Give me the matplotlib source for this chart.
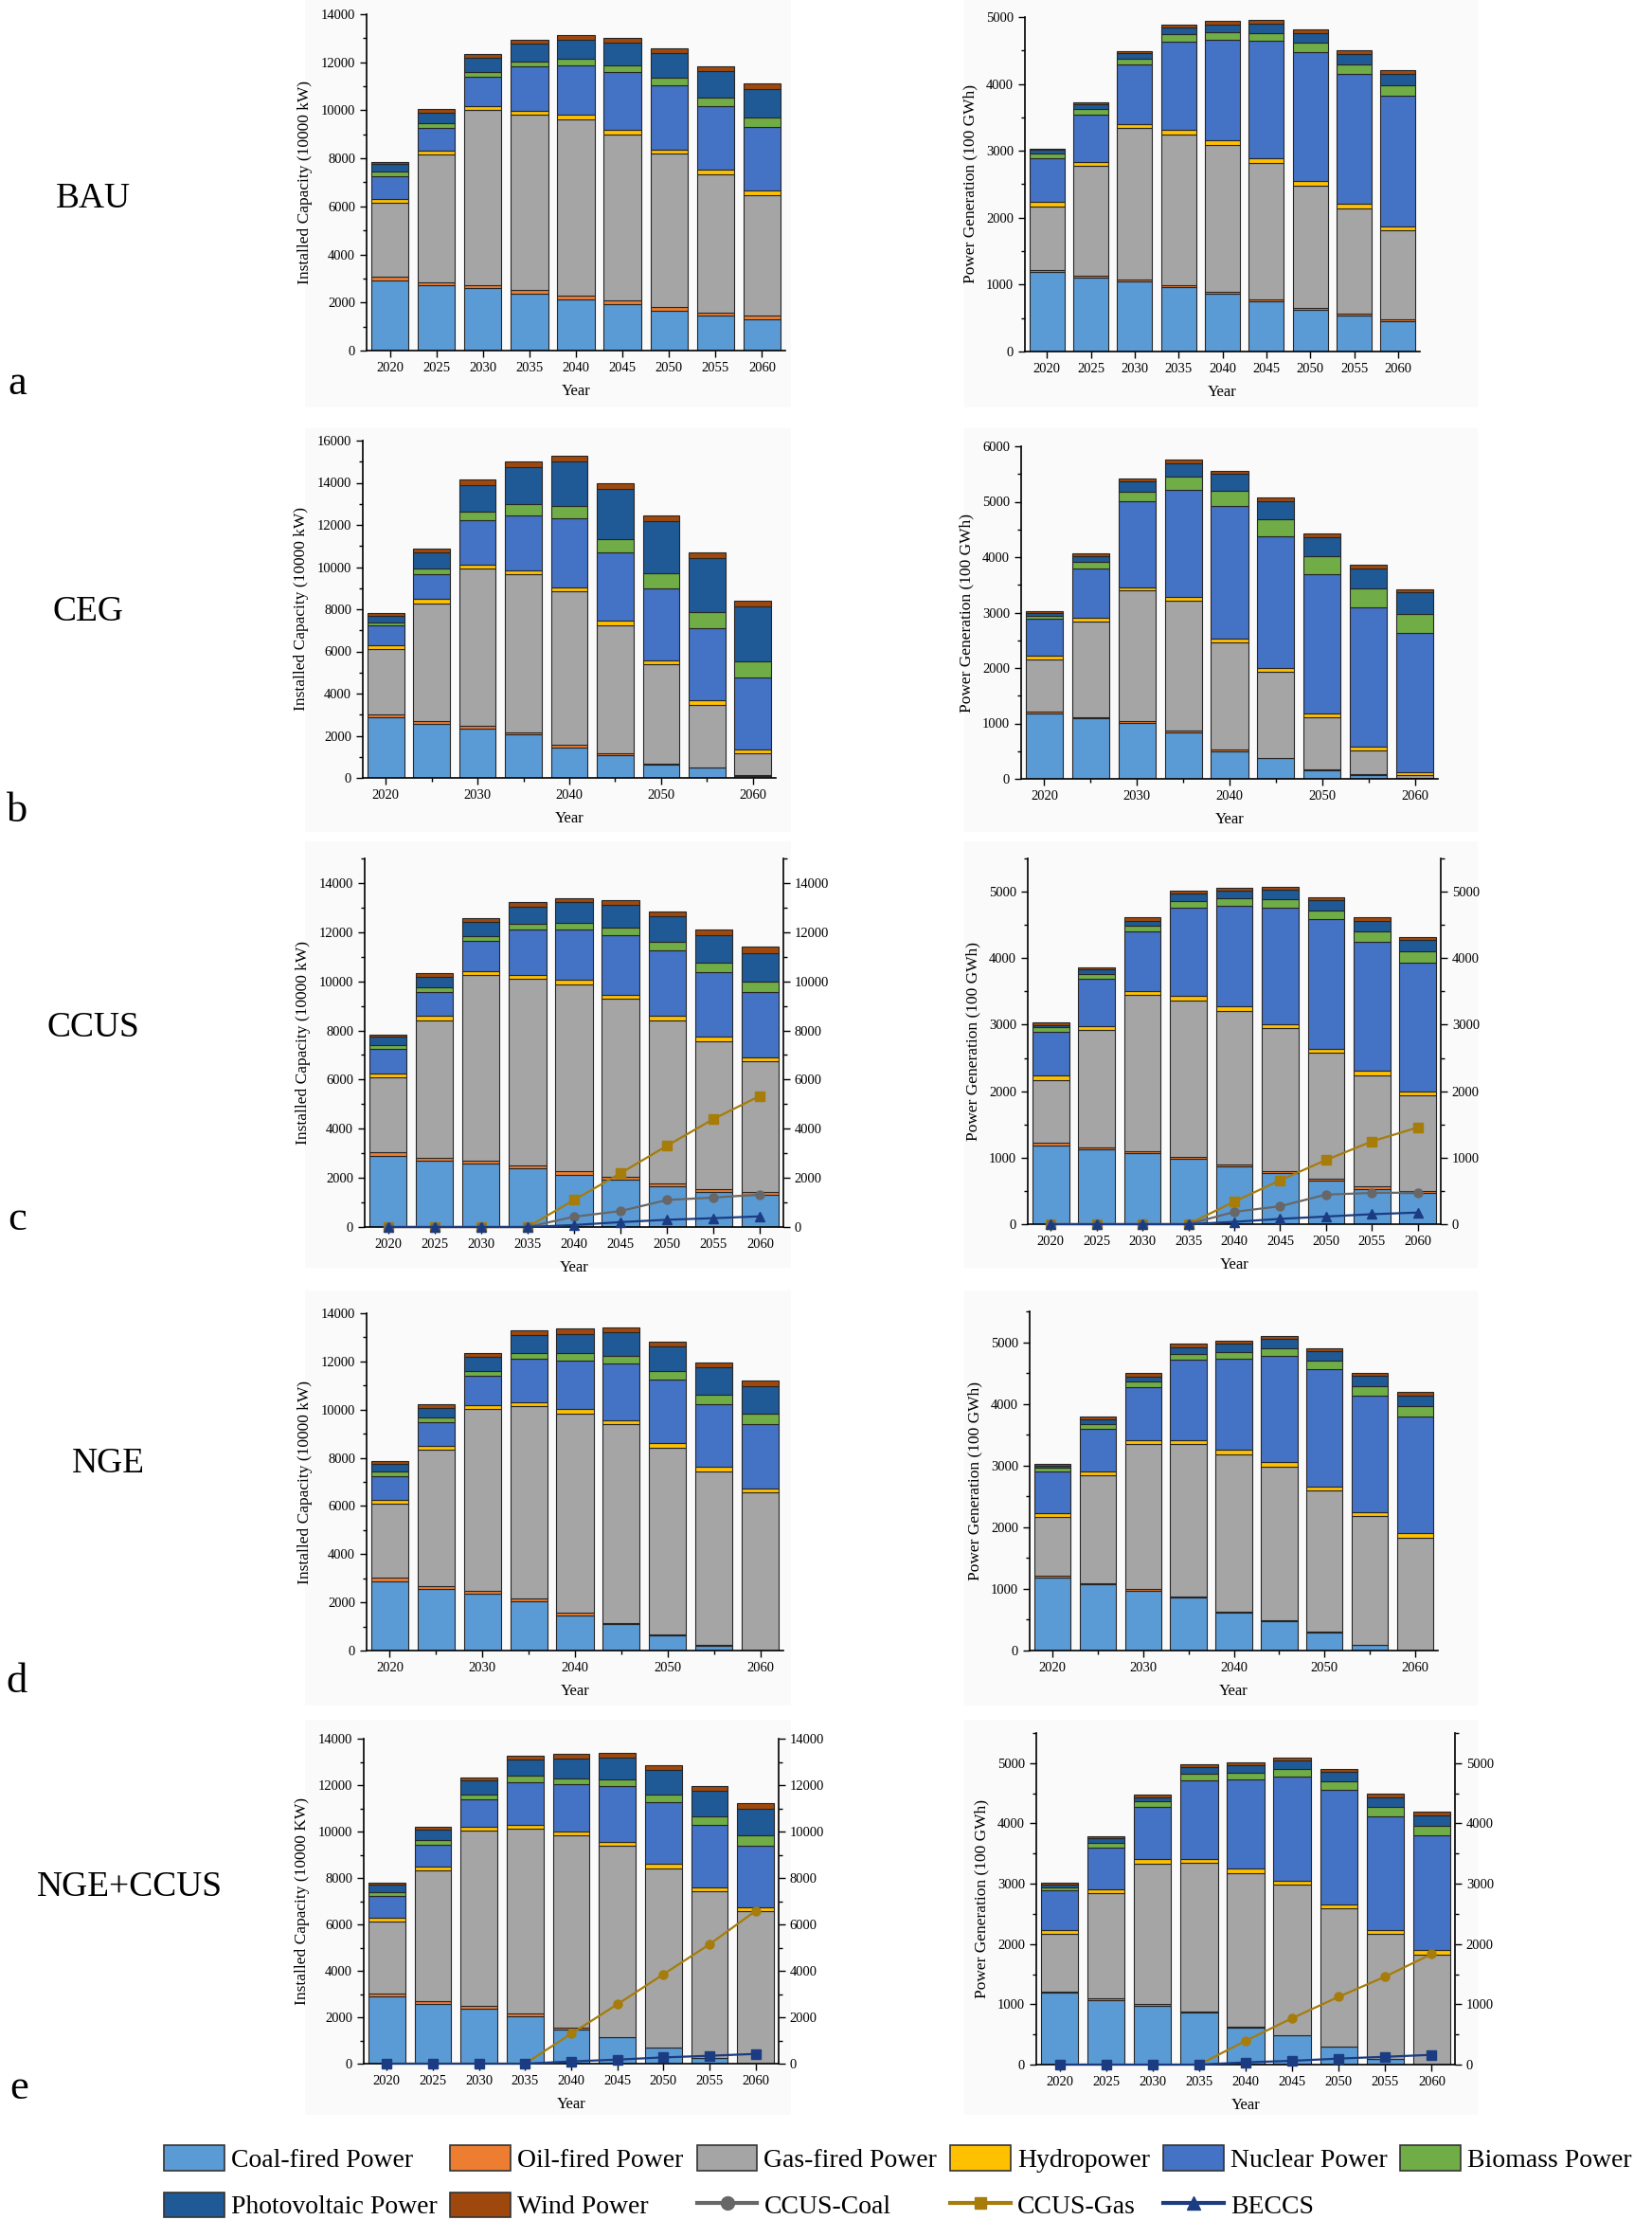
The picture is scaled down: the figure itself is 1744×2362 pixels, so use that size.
import numpy as np
import matplotlib
matplotlib.use('Agg')
import matplotlib.pyplot as plt
from matplotlib.patches import Patch, Rectangle
from matplotlib.lines import Line2D
from matplotlib.ticker import MultipleLocator

plt.rcParams['font.family'] = ['Liberation Serif', 'DejaVu Serif']

years = ['2020', '2025', '2030', '2035', '2040', '2045', '2050', '2055', '2060']
sources = ['Coal-fired Power', 'Oil-fired Power', 'Gas-fired Power', 'Hydropower',
           'Nuclear Power', 'Biomass Power', 'Photovoltaic Power', 'Wind Power']
colors = ['#5b9bd5', '#ed7d31', '#a5a5a5', '#ffc000',
          '#4472c4', '#70ad47', '#1f5a96', '#9e480e']

# rows follow `sources`: coal, oil, gas, hydro, nuclear, biomass, PV, wind
bau_cap = [
    [2930, 2720, 2600, 2370, 2140, 1920, 1660, 1450, 1290],
    [130, 130, 120, 150, 130, 160, 140, 130, 160],
    [3080, 5300, 7280, 7290, 7350, 6900, 6400, 5740, 5000],
    [170, 170, 180, 180, 200, 200, 180, 200, 210],
    [960, 960, 1210, 1830, 2050, 2420, 2650, 2640, 2650],
    [170, 180, 210, 220, 260, 260, 330, 360, 390],
    [340, 430, 580, 720, 790, 960, 1010, 1120, 1170],
    [80, 160, 150, 170, 200, 200, 210, 200, 240],
]
bau_gen = [
    [1190, 1110, 1055, 970, 865, 755, 630, 535, 450],
    [30, 30, 28, 28, 28, 30, 28, 28, 32],
    [950, 1640, 2264, 2245, 2193, 2032, 1824, 1579, 1328],
    [61, 57, 57, 66, 66, 66, 62, 66, 66],
    [662, 708, 884, 1328, 1508, 1763, 1937, 1938, 1952],
    [70, 76, 89, 104, 113, 118, 137, 141, 146],
    [52, 71, 80, 104, 109, 141, 147, 156, 175],
    [20, 33, 38, 43, 57, 52, 47, 62, 57],
]
ceg_cap = [
    [2880, 2580, 2320, 2050, 1450, 1080, 630, 480, 105],
    [150, 120, 150, 120, 105, 75, 45, 30, 15],
    [3100, 5580, 7450, 7480, 7320, 6100, 4720, 2970, 1030],
    [150, 195, 195, 195, 180, 195, 180, 210, 195],
    [945, 1185, 2100, 2610, 3240, 3250, 3420, 3430, 3400],
    [150, 270, 435, 555, 615, 645, 705, 735, 795],
    [330, 750, 1230, 1710, 2085, 2355, 2475, 2550, 2610],
    [120, 210, 270, 270, 285, 270, 270, 300, 270],
]
ceg_gen = [
    [1185, 1088, 1014, 838, 501, 370, 160, 74, 17],
    [29, 29, 23, 28, 29, 12, 17, 11, 6],
    [940, 1726, 2359, 2342, 1937, 1550, 928, 428, 40],
    [74, 69, 63, 68, 69, 68, 74, 68, 51],
    [655, 883, 1544, 1943, 2381, 2382, 2508, 2513, 2524],
    [63, 120, 182, 240, 280, 302, 330, 342, 342],
    [45, 102, 177, 239, 302, 330, 342, 365, 382],
    [29, 46, 57, 63, 57, 63, 68, 62, 63],
]
ccus_cap = [
    [2900, 2710, 2570, 2390, 2130, 1910, 1640, 1420, 1300],
    [130, 115, 130, 115, 130, 115, 130, 130, 130],
    [3080, 5595, 7545, 7584, 7597, 7263, 6647, 5992, 5326],
    [155, 190, 180, 180, 190, 155, 190, 205, 165],
    [975, 937, 1206, 1822, 2078, 2451, 2669, 2630, 2657],
    [180, 193, 218, 243, 270, 308, 347, 385, 423],
    [334, 436, 577, 706, 821, 898, 1026, 1117, 1155],
    [90, 167, 154, 180, 180, 193, 193, 218, 244],
]
ccus_gen = [
    [1186, 1124, 1063, 982, 873, 768, 650, 531, 470],
    [33, 29, 28, 28, 28, 29, 28, 34, 28],
    [949, 1764, 2353, 2358, 2311, 2149, 1907, 1674, 1433],
    [62, 57, 66, 62, 61, 62, 57, 71, 66],
    [664, 712, 887, 1328, 1513, 1755, 1945, 1931, 1940],
    [71, 81, 86, 104, 110, 128, 133, 157, 162],
    [33, 61, 81, 105, 118, 133, 152, 161, 170],
    [33, 33, 47, 47, 48, 52, 47, 52, 48],
]
nge_cap = [
    [2890, 2560, 2340, 2030, 1470, 1115, 643, 210, 0],
    [155, 130, 130, 130, 105, 27, 13, 13, 0],
    [3058, 5642, 7571, 7978, 8266, 8240, 7755, 7191, 6548],
    [157, 171, 157, 157, 171, 184, 183, 197, 183],
    [958, 958, 1208, 1811, 2034, 2362, 2664, 2624, 2677],
    [197, 210, 210, 236, 288, 314, 355, 393, 420],
    [328, 406, 564, 748, 814, 971, 997, 1116, 1154],
    [105, 131, 157, 184, 210, 184, 223, 223, 237],
]
nge_gen = [
    [1179, 1072, 974, 856, 615, 482, 292, 87, 0],
    [36, 25, 21, 21, 21, 5, 11, 5, 0],
    [949, 1744, 2349, 2467, 2543, 2498, 2287, 2082, 1831],
    [67, 67, 66, 66, 72, 66, 72, 67, 72],
    [666, 692, 867, 1303, 1477, 1728, 1897, 1887, 1897],
    [62, 77, 82, 102, 118, 129, 144, 154, 159],
    [41, 77, 87, 103, 133, 143, 153, 174, 179],
    [26, 36, 51, 56, 42, 52, 52, 52, 52],
]
ngeccus_cap = [
    [2895, 2583, 2351, 2039, 1468, 1128, 680, 231, 0],
    [123, 108, 123, 109, 95, 27, 27, 14, 0],
    [3099, 5641, 7557, 7978, 8278, 8224, 7720, 7190, 6565],
    [163, 163, 163, 163, 177, 163, 177, 177, 163],
    [951, 952, 1197, 1835, 2011, 2406, 2650, 2678, 2678],
    [177, 204, 203, 272, 272, 312, 327, 380, 422],
    [299, 421, 598, 693, 843, 938, 1060, 1087, 1155],
    [95, 122, 136, 164, 190, 190, 204, 204, 231],
]
ngeccus_gen = [
    [1190, 1069, 980, 860, 613, 482, 299, 89, 0],
    [26, 26, 26, 26, 21, 11, 5, 5, 0],
    [954, 1746, 2333, 2463, 2547, 2489, 2290, 2076, 1829],
    [57, 63, 68, 68, 68, 68, 63, 68, 68],
    [661, 697, 864, 1300, 1478, 1725, 1897, 1887, 1903],
    [57, 83, 90, 100, 116, 125, 147, 157, 167],
    [37, 74, 78, 110, 120, 142, 147, 157, 168],
    [37, 31, 47, 47, 47, 52, 52, 52, 53],
]

# CCUS / BECCS lines (right axis)
ccus_cap_coal = [0, 0, 0, 0, 420, 650, 1100, 1200, 1320]
ccus_cap_gas = [0, 0, 0, 0, 1100, 2190, 3310, 4400, 5340]
ccus_cap_beccs = [0, 0, 0, 0, 80, 200, 295, 360, 435]
ccus_gen_coal = [0, 0, 0, 0, 185, 270, 445, 470, 475]
ccus_gen_gas = [0, 0, 0, 0, 340, 660, 965, 1245, 1455]
ccus_gen_beccs = [0, 0, 0, 0, 35, 80, 115, 150, 175]
ngeccus_cap_gas = [0, 0, 0, 0, 1290, 2555, 3850, 5140, 6580]
ngeccus_cap_beccs = [0, 0, 0, 0, 95, 175, 270, 340, 420]
ngeccus_gen_gas = [0, 0, 0, 0, 395, 770, 1125, 1460, 1835]
ngeccus_gen_beccs = [0, 0, 0, 0, 37, 63, 100, 130, 162]

line_colors = {'CCUS-Coal': '#676767', 'CCUS-Gas': '#a67c0a', 'BECCS': '#1b3c82'}

W, H = 1744, 2362
fig = plt.figure(figsize=(W / 100, H / 100), dpi=100)
fig.patch.set_facecolor('white')


def px_axes(x0, y0, x1, y1):
    return fig.add_axes([x0 / W, 1 - y1 / H, (x1 - x0) / W, (y1 - y0) / H])


def backdrop(x0, y0, x1, y1):
    fig.add_artist(Rectangle((x0 / W, 1 - y1 / H), (x1 - x0) / W, (y1 - y0) / H,
                             transform=fig.transFigure, facecolor='#fafafa',
                             edgecolor='none', zorder=-5))


def style_y(ax, ymax, top_tick, step):
    ax.set_ylim(0, ymax)
    ax.set_yticks(np.arange(0, top_tick + 1, step))
    ax.yaxis.set_minor_locator(MultipleLocator(step / 2))
    ax.tick_params(axis='y', which='both', direction='out', labelsize=10.5, width=1)
    ax.tick_params(axis='y', which='major', length=5)
    ax.tick_params(axis='y', which='minor', length=3)


def draw_panel(rect, stack, ymax, top_tick, step, ylabel, every_other=False, lines=None):
    ax = px_axes(*rect)
    ax.set_facecolor('none')
    x = np.arange(len(years))
    bottom = np.zeros(len(years))
    for vals, c in zip(stack, colors):
        ax.bar(x, vals, 0.8, bottom=bottom, color=c, edgecolor='#262626',
               linewidth=0.8, zorder=2)
        bottom += np.array(vals)
    ax.set_xlim(-0.5, 8.5)
    style_y(ax, ymax, top_tick, step)
    if every_other:
        ax.set_xticks(x[::2])
        ax.set_xticklabels(years[::2])
        ax.set_xticks(x[1::2], minor=True)
    else:
        ax.set_xticks(x)
        ax.set_xticklabels(years)
    ax.tick_params(axis='x', which='both', direction='out', labelsize=10.5, width=1)
    ax.tick_params(axis='x', which='major', length=5)
    ax.tick_params(axis='x', which='minor', length=3)
    for s in ['top', 'right']:
        ax.spines[s].set_visible(False)
    for s in ['left', 'bottom']:
        ax.spines[s].set_linewidth(1.2)
    ax.set_xlabel('Year', fontsize=12, labelpad=7)
    ax.set_ylabel(ylabel, fontsize=12.5, labelpad=6)

    if lines:
        ax2 = ax.twinx()
        ax2.set_facecolor('none')
        style_y(ax2, ymax, top_tick, step)
        for s in ['top', 'left', 'bottom']:
            ax2.spines[s].set_visible(False)
        ax2.spines['right'].set_linewidth(1.2)
        for name, vals, marker in lines:
            ax2.plot(x, vals, color=line_colors[name], marker=marker, markersize=6.5,
                     linewidth=1.6, zorder=4, clip_on=False)
    return ax


cap_label = 'Installed Capacity (10000 kW)'
gen_label = 'Power Generation (100 GWh)'

# panel backdrops
for y0, y1 in [(0, 430), (452, 878), (888, 1338), (1362, 1800), (1815, 2232)]:
    backdrop(322, y0, 835, y1)
    backdrop(1018, y0, 1560, y1)

draw_panel((387, 15, 829, 370), bau_cap, 14000, 14000, 2000, cap_label)
draw_panel((1082, 18, 1499, 371), bau_gen, 5000, 5000, 1000, gen_label)

draw_panel((383, 465, 819, 821), ceg_cap, 16000, 16000, 2000, cap_label, every_other=True)
draw_panel((1078, 471, 1518, 822), ceg_gen, 6000, 6000, 1000, gen_label, every_other=True)

draw_panel((385, 906, 827, 1295), ccus_cap, 15000, 14000, 2000, cap_label,
           lines=[('CCUS-Gas', ccus_cap_gas, 's'),
                  ('CCUS-Coal', ccus_cap_coal, 'o'),
                  ('BECCS', ccus_cap_beccs, '^')])
draw_panel((1085, 906, 1521, 1292), ccus_gen, 5500, 5000, 1000, gen_label,
           lines=[('CCUS-Gas', ccus_gen_gas, 's'),
                  ('CCUS-Coal', ccus_gen_coal, 'o'),
                  ('BECCS', ccus_gen_beccs, '^')])

draw_panel((387, 1386, 827, 1742), nge_cap, 14000, 14000, 2000, cap_label, every_other=True)
draw_panel((1087, 1384, 1518, 1742), nge_gen, 5500, 5000, 1000, gen_label, every_other=True)

draw_panel((384, 1835, 822, 2178), ngeccus_cap, 14000, 14000, 2000,
           'Installed Capacity (10000 KW)',
           lines=[('CCUS-Gas', ngeccus_cap_gas, 'o'),
                  ('BECCS', ngeccus_cap_beccs, 's')])
draw_panel((1094, 1829, 1536, 2179), ngeccus_gen, 5500, 5000, 1000, gen_label,
           lines=[('CCUS-Gas', ngeccus_gen_gas, 'o'),
                  ('BECCS', ngeccus_gen_beccs, 's')])

# scenario names and panel letters
scenarios = ['BAU', 'CEG', 'CCUS', 'NGE', 'NGE+CCUS']
scen_pos = [(98, 210), (93, 646), (98, 1085), (114, 1545), (137, 1992)]
letters = ['a', 'b', 'c', 'd', 'e']
letter_pos = [(18, 405), (18, 856), (18, 1287), (18, 1775), (20, 2204)]
for name, (px, py) in zip(scenarios, scen_pos):
    fig.text(px / W, 1 - py / H, name, fontsize=27, ha='center', va='center')
for lt, (px, py) in zip(letters, letter_pos):
    fig.text(px / W, 1 - py / H, lt, fontsize=32, ha='center', va='center')

# legend, ordered so that matplotlib's column filling gives the reference rows
patches = [Patch(facecolor=c, edgecolor='#333333', linewidth=1.2) for c in colors]
line_handles = [
    Line2D([], [], color=line_colors['CCUS-Coal'], marker='o', markersize=10, linewidth=3),
    Line2D([], [], color=line_colors['CCUS-Gas'], marker='s', markersize=9, linewidth=3),
    Line2D([], [], color=line_colors['BECCS'], marker='^', markersize=10, linewidth=3),
]
line_labels = ['CCUS-Coal', 'CCUS-Gas', 'BECCS']
order_h = [patches[0], patches[6], patches[1], patches[7], patches[2], line_handles[0],
           patches[3], line_handles[1], patches[4], line_handles[2], patches[5]]
order_l = [sources[0], sources[6], sources[1], sources[7], sources[2], line_labels[0],
           sources[3], line_labels[1], sources[4], line_labels[2], sources[5]]
fig.legend(order_h, order_l, loc='upper left', bbox_to_anchor=(173 / W, 1 - 2264 / H),
           ncol=6, frameon=False, fontsize=20, handlelength=2.3, handleheight=1.1,
           handletextpad=0.25, columnspacing=0.5, labelspacing=0.75,
           borderpad=0, borderaxespad=0)

fig.savefig('out.png', dpi=100)
